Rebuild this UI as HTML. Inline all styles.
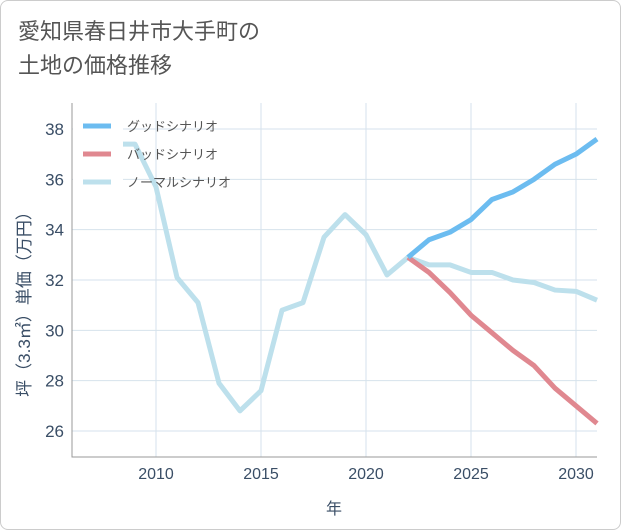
<!DOCTYPE html>
<html><head><meta charset="utf-8"><style>
body{margin:0;background:#fff;font-family:"Liberation Sans","Noto Sans CJK JP",sans-serif;}
#wrap{position:relative;width:619px;height:528px;border:1px solid #ccc;border-radius:8px;overflow:hidden;}
#title{position:absolute;left:17px;top:14px;font-size:22px;line-height:34px;color:#555;}
</style></head><body>
<div id="wrap">
<div id="title">愛知県春日井市大手町の<br>土地の価格推移</div>
<svg id="chart" width="621" height="530" style="position:absolute;left:-1px;top:-1px"></svg>
</div>
<script>
const years=[2008,2009,2010,2011,2012,2013,2014,2015,2016,2017,2018,2019,2020,2021,2022,2023,2024,2025,2026,2027,2028,2029,2030,2031];
const normal=[37.4,37.4,35.7,32.1,31.1,27.9,26.8,27.6,30.8,31.1,33.7,34.6,33.8,32.2,32.9,32.6,32.6,32.3,32.3,32.0,31.9,31.6,31.55,31.2];
const fYears=[2022,2023,2024,2025,2026,2027,2028,2029,2030,2031];
const good=[32.9,33.6,33.9,34.4,35.2,35.5,36.0,36.6,37.0,37.6];
const bad=[32.9,32.3,31.5,30.6,29.9,29.2,28.6,27.7,27.0,26.3];
const xTicks=[2010,2015,2020,2025,2030];
const yTicks=[26,28,30,32,34,36,38];
const NS='http://www.w3.org/2000/svg';
const svg=document.getElementById('chart');
const X0=72,X1=597,Y0=103,Y1=457;
const x=v=>X0+(v-2006)*(X1-X0)/25;
const y=v=>431-(v-26)*(431-129)/12;
function mk(t,a){const e=document.createElementNS(NS,t);for(const k in a)e.setAttribute(k,a[k]);svg.appendChild(e);return e;}
xTicks.forEach(t=>{
 const g=mk('line',{x1:x(t),x2:x(t),y1:Y0,y2:Y1,stroke:'#d6e2ec','stroke-width':1});
 
 
 const l=mk('text',{x:x(t),y:479,'text-anchor':'middle','font-size':16,fill:'#3a4e66'});
 l.textContent=t;
 
 
});
yTicks.forEach(t=>{
 const g=mk('line',{x1:X0,x2:X1,y1:y(t),y2:y(t),stroke:'#d6e2ec','stroke-width':1});
 
 
 const l=mk('text',{x:64,y:y(t)+6,'text-anchor':'end','font-size':17,fill:'#3a4e66'});
 l.textContent=t;
 
 
});
const ax=mk('path',{d:`M${X0} ${Y0}V${Y1}H${X1}`,stroke:'#999',fill:'none','stroke-width':1});


function line(xs,vs,c,n){
 const p=mk('polyline',{points:xs.map((v,i)=>x(v)+','+y(vs[i])).join(' '),fill:'none',stroke:c,'stroke-width':5,'stroke-linejoin':'round'});
 
 
}
line(years,normal,'#bde0ec','normal-scenario-line');
line(fYears,bad,'#e08890','bad-scenario-line');
line(fYears,good,'#6cbcf0','good-scenario-line');
const lr=mk('rect',{x:73,y:112,width:50,height:84,fill:'#fff'});


[['グッドシナリオ','#6cbcf0',126],['バッドシナリオ','#e08890',154],['ノーマルシナリオ','#bde0ec',182]].forEach(([t,c,yy])=>{
 const s=mk('line',{x1:83,x2:111,y1:yy,y2:yy,stroke:c,'stroke-width':5});
 
 
 const l=mk('text',{x:127,y:yy+5,'font-size':13,fill:'#555'});
 l.textContent=t;
 
 
});
const xt=mk('text',{x:334,y:514,'text-anchor':'middle','font-size':16,fill:'#3a4e66'});
xt.textContent='年';


const yt=mk('text',{x:0,y:0,'text-anchor':'middle','font-size':17,fill:'#3a4e66',transform:'translate(30,300) rotate(-90)'});
yt.textContent='坪（3.3㎡）単価（万円）';


</script>
</body></html>
